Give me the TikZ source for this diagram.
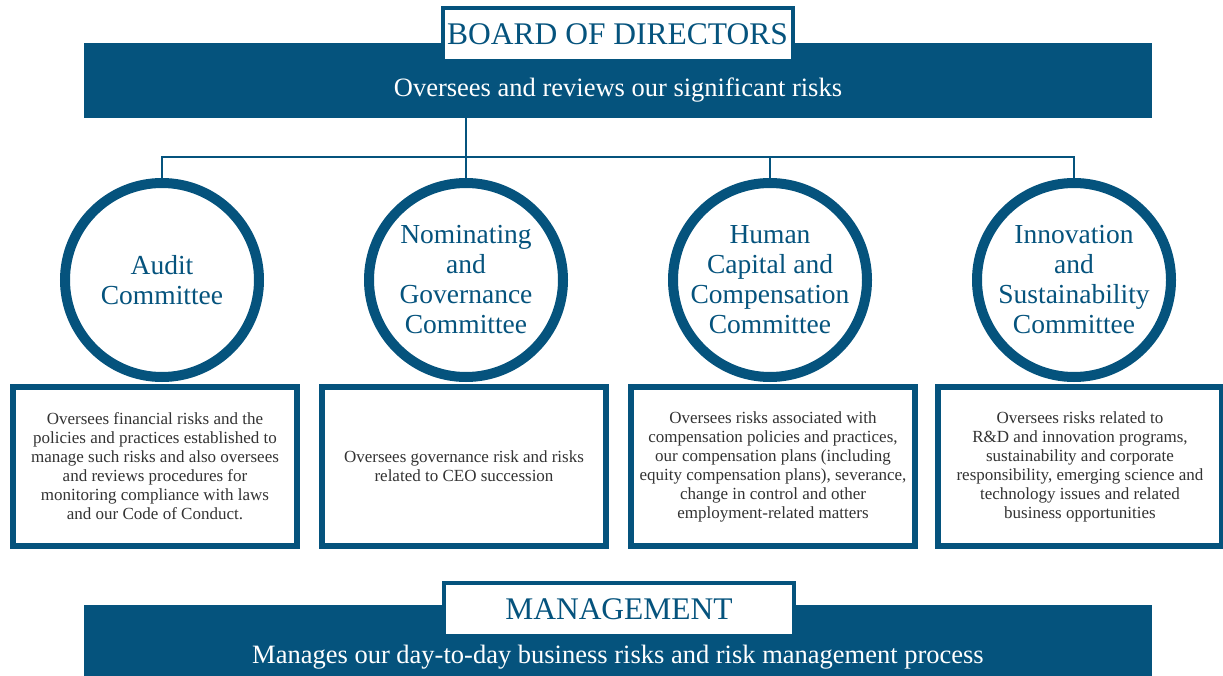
\documentclass[tikz,border=0pt]{standalone}
\usepackage{fontspec}
\setmainfont{Liberation Serif}
\definecolor{govblue}{RGB}{5,83,125}
\definecolor{bodygray}{RGB}{51,51,51}
\tikzset{
  band/.style={fill=govblue, draw=none, minimum width=1068pt, minimum height=75pt, inner sep=0pt},
  titlebox/.style={draw=govblue, fill=white, line width=4pt, minimum width=350pt, minimum height=53pt,
    inner sep=0pt, text=govblue, font=\fontsize{31.5}{34}\selectfont},
  committee/.style={circle, draw=govblue, fill=white, line width=10pt, minimum size=194pt, inner sep=0pt,
    align=center, text=govblue, font=\fontsize{27.5}{30}\selectfont},
  remit/.style={draw=govblue, fill=white, line width=6pt, minimum width=284pt, minimum height=159pt,
    inner sep=0pt, align=center, text=bodygray, font=\fontsize{17}{19}\selectfont},
  link/.style={draw=govblue, line width=1.5pt},
  bandtext/.style={text=white, font=\fontsize{26.5}{30}\selectfont, anchor=base}
}

\begin{document}
\begin{tikzpicture}[x=1pt, y=-1pt]
  %%%%% START %%%%%
  \useasboundingbox (0,0) rectangle (1223,676);

  % board band and heading
  \node[band] (boardband) at (618,80.5) {};
  \node[bandtext] (boardtext) at (618,97) {Oversees and reviews our significant risks};
  \node[titlebox] (board) at (617.5,34.5) {BOARD OF DIRECTORS};

  % committees
  \node[committee] (audit) at (162,280) {Audit\\Committee};
  \node[committee] (nomgov) at (466,280) {Nominating\\and\\Governance\\Committee};
  \node[committee] (hccc) at (770,280) {Human\\Capital and\\Compensation\\Committee};
  \node[committee] (innov) at (1074,280) {Innovation\\and\\Sustainability\\Committee};

  % tree from the board down to the committees
  \coordinate (bus) at (0,157);
  \draw[link] (boardband.south -| nomgov.north) -- (nomgov.north);
  \draw[link] (audit.north) -- (audit.north |- bus) -- (innov.north |- bus) -- (innov.north);
  \draw[link] (hccc.north) -- (hccc.north |- bus);

  % what each committee oversees
  \node[remit] (auditbox) at (155,466.5) {Oversees financial risks and the\\policies and practices established to\\manage such risks and also oversees\\and reviews procedures for\\monitoring compliance with laws\\and our Code of Conduct.};
  \node[remit] (nomgovbox) at (464,466.5) {Oversees governance risk and risks\\related to CEO succession};
  \node[remit] (hcccbox) at (773,466.5) {Oversees risks associated with\\compensation policies and practices,\\our compensation plans (including\\equity compensation plans), severance,\\change in control and other\\employment-related matters};
  \node[remit] (innovbox) at (1080,466.5) {Oversees risks related to\\R\&D and innovation programs,\\sustainability and corporate\\responsibility, emerging science and\\technology issues and related\\business opportunities};

  % management band
  \node[band, minimum height=72pt] (mgmtband) at (618,641) {};
  \node[bandtext] (mgmttext) at (618,663) {Manages our day-to-day business risks and risk management process};
  \node[titlebox] (mgmt) at (619,609) {MANAGEMENT};
  %%%%% END %%%%%
\end{tikzpicture}
\end{document}
